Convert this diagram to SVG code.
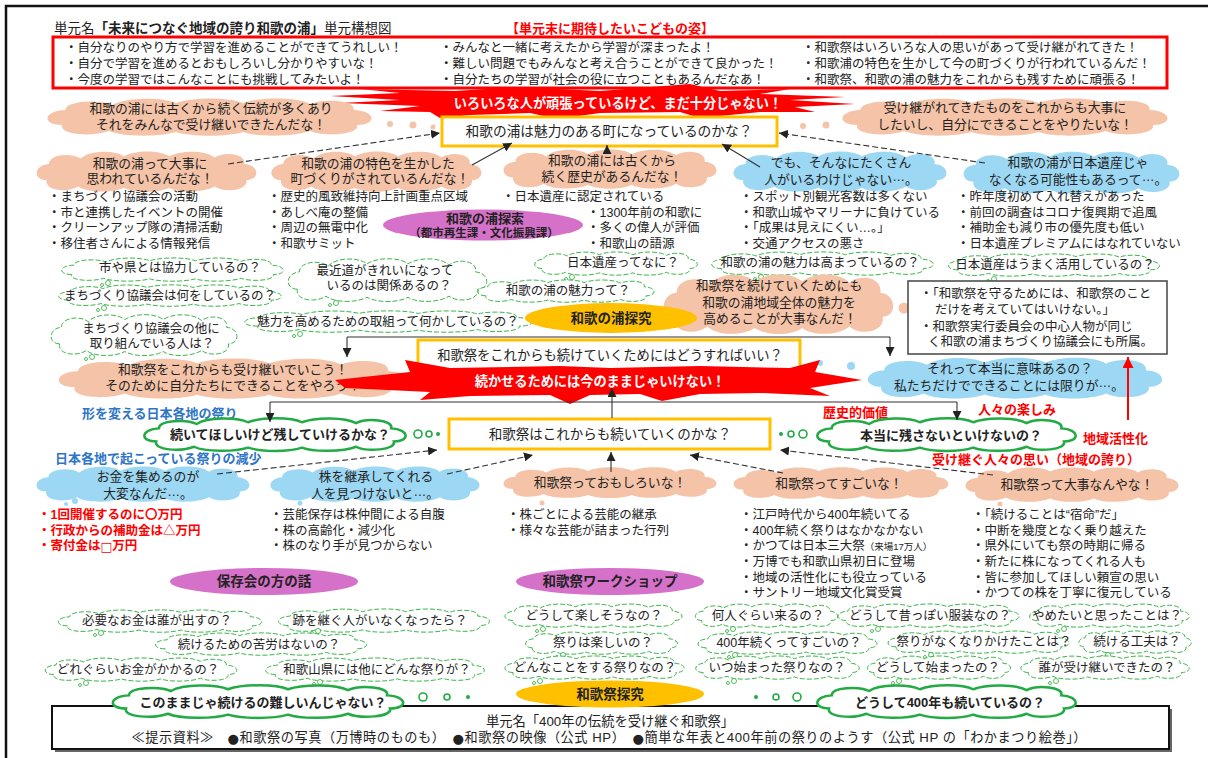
<svg xmlns="http://www.w3.org/2000/svg" width="1208" height="758" viewBox="0 0 1208 758">
<style>
text{font-family:"Liberation Sans","Noto Sans CJK JP","Noto Sans CJK SC",sans-serif;font-size:12.5px;fill:#222;dominant-baseline:central}
.m{text-anchor:middle}
.b{font-weight:bold}
.rd{fill:#FF0000;font-weight:bold;font-size:13px}
.bl{fill:#2E75C5;font-weight:bold;font-size:13px}
.wt{fill:#fff;font-weight:bold;font-size:13.2px}
.t13{font-size:12.8px}
.dv{font-family:"DejaVu Sans",sans-serif}
.pe{fill:#F5C3A7}
.bu{fill:#9CD8F3}
.qd{fill:#fff;stroke:#3DB54A;stroke-width:1;stroke-dasharray:5 2}
.gb{fill:#fff;stroke:#22AA44;stroke-width:2.5}
.gold{fill:#fff;stroke:#FFC000;stroke-width:3}
.ln{fill:none;stroke:#333;stroke-width:1.1}
.dl{fill:none;stroke:#333;stroke-width:1.1;stroke-dasharray:6 3}
.pu{fill:#D571C9}
.or{fill:#FFC000}
.gc{fill:#fff;stroke:#22AA44;stroke-width:1.6}
</style>
<defs>
<path id="cl" vector-effect="non-scaling-stroke" d="M12,28 C0,28 0,14 14,13 C14,4 34,2 42,8 C50,0 72,0 80,6 C90,0 112,0 120,6 C130,0 152,0 160,7 C168,1 188,3 186,13 C200,14 200,28 188,28 C190,38 168,40 160,34 C150,40 128,40 120,35 C110,40 90,40 80,35 C70,40 48,40 40,34 C30,40 10,38 12,28 Z"/>
<g id="tail"><circle cx="0" cy="0" r="1.5" fill="#fff" stroke="#3DB54A" stroke-width="0.9"/><circle cx="6" cy="-2" r="2.5" fill="#fff" stroke="#3DB54A" stroke-width="0.9"/></g>
<marker id="ah" viewBox="0 0 10 10" refX="10" refY="5" markerWidth="9" markerHeight="9" markerUnits="userSpaceOnUse" orient="auto"><path d="M0,0 L10,5 L0,10 Z" fill="#222"/></marker>
<marker id="ahr" viewBox="0 0 10 10" refX="10" refY="5" markerWidth="11" markerHeight="11" markerUnits="userSpaceOnUse" orient="auto"><path d="M0,0 L10,5 L0,10 Z" fill="#FF0000"/></marker>
</defs>
<rect x="0" y="0" width="1208" height="758" fill="#fff"/>
<rect x="6" y="6" width="1215" height="765" fill="none" stroke="#111" stroke-width="2.5"/>

<g id="title">
<text x="54" y="28" style="font-size:13.5px">単元名<tspan class="b">「未来につなぐ地域の誇り和歌の浦」</tspan>単元構想図</text>
<text x="610" y="28" class="m rd">【単元末に期待したいこどもの姿】</text>
</g>

<g id="goal-box">
<rect x="53" y="37" width="1114" height="51" fill="#fff" stroke="#FF0000" stroke-width="3"/>
<text><tspan x="65" y="48">・自分なりのやり方で学習を進めることができてうれしい！</tspan><tspan x="65" y="64">・自分で学習を進めるとおもしろいし分かりやすいな！</tspan><tspan x="65" y="80">・今度の学習ではこんなことにも挑戦してみたいよ！</tspan></text>
<text><tspan x="440" y="48">・みんなと一緒に考えたから学習が深まったよ！</tspan><tspan x="440" y="64">・難しい問題でもみんなと考え合うことができて良かった！</tspan><tspan x="440" y="80">・自分たちの学習が社会の役に立つこともあるんだなあ！</tspan></text>
<text><tspan x="802" y="48">・和歌祭はいろいろな人の思いがあって受け継がれてきた！</tspan><tspan x="802" y="64">・和歌浦の特色を生かして今の町づくりが行われているんだ！</tspan><tspan x="802" y="80">・和歌祭、和歌の浦の魅力をこれからも残すために頑張る！</tspan></text>
</g>

<g id="burst1">
<path fill="#FF0000" d="M330,96 L400,93 L360,89 L455,91 L520,87 L600,91 L690,84 L720,91 L790,89 L760,94 L845,97 L790,100 L855,104 L795,107 L815,112 L760,112 L700,118 L680,112 L600,113 L557,119 L530,113 L470,115 L440,118 L430,112 L380,111 L420,106 L340,103 L400,100 Z"/>
<text x="618" y="103" class="m wt">いろいろな人が頑張っているけど、まだ十分じゃない！</text>
</g>

<g id="cloud-tradition">
<use href="#cl" class="pe" transform="translate(42,97) scale(1.675,1)"/>
<circle cx="390" cy="124" r="3" class="pe"/><circle cx="413" cy="125" r="3.5" class="pe"/><circle cx="433" cy="127" r="2.5" class="pe"/>
<text class="m t13"><tspan x="211" y="108">和歌の浦には古くから続く伝統が多くあり</tspan><tspan x="211" y="124">それをみんなで受け継いできたんだな！</tspan></text>
</g>
<g id="cloud-cherish">
<use href="#cl" class="pe" transform="translate(837,97) scale(1.68,1)"/>
<circle cx="803" cy="126" r="3" class="pe"/><circle cx="826" cy="125" r="3.5" class="pe"/>
<text class="m t13"><tspan x="1005" y="107">受け継がれてきたものをこれからも大事に</tspan><tspan x="1005" y="124">したいし、自分にできることをやりたいな！</tspan></text>
</g>

<g id="box-miryoku">
<rect x="442" y="117" width="335" height="29" class="gold"/>
<text x="609" y="131.5" class="m" style="font-size:13.7px">和歌の浦は魅力のある町になっているのかな？</text>
</g>

<g id="cloud-daiji">
<use href="#cl" class="pe" transform="translate(33,150) scale(1.135,1.075)"/>
<text class="m t13"><tspan x="150" y="163">和歌の浦って大事に</tspan><tspan x="150" y="178">思われているんだな！</tspan></text>
</g>
<g id="cloud-tokushoku">
<use href="#cl" class="pe" transform="translate(268,150) scale(1.085,1.075)"/>
<text class="m t13"><tspan x="378" y="163">和歌の浦の特色を生かした</tspan><tspan x="380" y="178">町づくりがされているんだな！</tspan></text>
</g>
<g id="cloud-rekishi">
<use href="#cl" class="pe" transform="translate(500,148) scale(1.1,1.05)"/>
<text class="m t13"><tspan x="612" y="160">和歌の浦には古くから</tspan><tspan x="612" y="176">続く歴史があるんだな！</tspan></text>
</g>
<g id="cloud-demo">
<use href="#cl" class="bu" transform="translate(730,150) scale(1.1,1.075)"/>
<text class="m t13"><tspan x="841" y="162">でも、そんなにたくさん</tspan><tspan x="841" y="179">人がいるわけじゃない<tspan dy="-3">…</tspan><tspan dy="3">。</tspan></tspan></text>
</g>
<g id="cloud-isan">
<use href="#cl" class="bu" transform="translate(960,150) scale(1.115,1.125)"/>
<circle cx="1003" cy="194" r="3" class="bu"/>
<text class="m t13"><tspan x="1078" y="162">和歌の浦が日本遺産じゃ</tspan><tspan x="1078" y="179">なくなる可能性もあるって<tspan dy="-3">…</tspan><tspan dy="3">。</tspan></tspan></text>
</g>

<g id="facts-1">
<text><tspan x="48" y="197">・まちづくり協議会の活動</tspan><tspan x="48" y="212.5">・市と連携したイベントの開催</tspan><tspan x="48" y="228">・クリーンアップ隊の清掃活動</tspan><tspan x="48" y="243.5">・移住者さんによる情報発信</tspan></text>
<text><tspan x="268" y="197">・歴史的風致維持向上計画重点区域</tspan><tspan x="268" y="212.5">・あしべ庵の整備</tspan><tspan x="268" y="228">・周辺の無電中化</tspan><tspan x="268" y="243.5">・和歌サミット</tspan></text>
<text><tspan x="502" y="197">・日本遺産に認定されている</tspan><tspan x="587" y="212.5">・1300年前の和歌に</tspan><tspan x="587" y="228">・多くの偉人が評価</tspan><tspan x="587" y="243.5">・和歌山の語源</tspan></text>
<text><tspan x="740" y="197">・スポット別観光客数は多くない</tspan><tspan x="740" y="212.5">・和歌山城やマリーナに負けている</tspan><tspan x="740" y="228">・「成果は見えにくい…。」</tspan><tspan x="740" y="243.5">・交通アクセスの悪さ</tspan></text>
<text><tspan x="957" y="197">・昨年度初めて入れ替えがあった</tspan><tspan x="957" y="212.5">・前回の調査はコロナ復興期で追風</tspan><tspan x="957" y="228">・補助金も減り市の優先度も低い</tspan><tspan x="957" y="243.5">・日本遺産プレミアムにはなれていない</tspan></text>
</g>

<g id="tansaku">
<ellipse cx="483" cy="225" rx="100" ry="15.5" class="pu"/>
<text class="m b"><tspan x="485" y="218" style="font-size:13px">和歌の浦探索</tspan><tspan x="484" y="233" style="font-size:11.5px">（都市再生課・文化振興課）</tspan></text>
</g>

<g id="q-kyoryoku"><use href="#cl" class="qd" transform="translate(58,257) scale(1.145,0.625)"/><use href="#tail" transform="translate(102,285)"/><text x="180" y="268" class="m">市や県とは協力しているの？</text></g>
<g id="q-kyogikai"><use href="#cl" class="qd" transform="translate(55,284) scale(1.15,0.575)"/><use href="#tail" transform="translate(98,310)"/><text x="170" y="295.5" class="m">まちづくり協議会は何をしているの？</text></g>
<g id="q-hoka"><use href="#cl" class="qd" transform="translate(48,313) scale(0.96,1.1)"/><use href="#tail" transform="translate(86,359)"/><text class="m"><tspan x="151" y="329">まちづくり協議会の他に</tspan><tspan x="152" y="343.5">取り組んでいる人は？</tspan></text></g>
<g id="q-michi"><use href="#cl" class="qd" transform="translate(285,257) scale(1.025,1.15)"/><use href="#tail" transform="translate(330,305)"/><text class="m"><tspan x="385" y="271">最近道がきれいになって</tspan><tspan x="389" y="286">いるのは関係あるの？</tspan></text></g>
<g id="q-isan"><use href="#cl" class="qd" transform="translate(532,251) scale(0.84,0.625)"/><use href="#tail" transform="translate(566,279)"/><text x="623" y="263" class="m">日本遺産ってなに？</text></g>
<g id="q-miryoku"><use href="#cl" class="qd" transform="translate(475,279) scale(0.91,0.6)"/><text x="568" y="291" class="m">和歌の浦の魅力って？</text></g>
<g id="q-torikumi"><use href="#cl" class="qd" transform="translate(240,310) scale(1.485,0.575)"/><use href="#tail" transform="translate(294,336)"/><text x="388" y="322" class="m">魅力を高めるための取組って何かしているの？</text></g>
<g id="q-takamari"><use href="#cl" class="qd" transform="translate(708,251) scale(1.145,0.625)"/><use href="#tail" transform="translate(755,279)"/><text x="820" y="263" class="m">和歌の浦の魅力は高まっているの？</text></g>
<g id="q-katsuyo"><use href="#cl" class="qd" transform="translate(945,253) scale(1.09,0.6)"/><use href="#tail" transform="translate(988,281)"/><text x="1055" y="265" class="m">日本遺産はうまく活用しているの？</text></g>

<g id="cloud-zentai">
<use href="#cl" class="pe" transform="translate(660,272) scale(1.185,1.6)"/>
<circle cx="904" cy="308" r="5.5" class="pe"/><circle cx="917" cy="309" r="3.5" class="pe"/>
<text class="m t13"><tspan x="779" y="285">和歌祭を続けていくためにも</tspan><tspan x="779" y="302">和歌の浦地域全体の魅力を</tspan><tspan x="780" y="318">高めることが大事なんだ！</tspan></text>
</g>

<g id="tankyu-ura">
<ellipse cx="611" cy="318" rx="86" ry="15" class="or"/>
<text x="611" y="318" class="m b" style="font-size:13.5px">和歌の浦探究</text>
</g>

<g id="note-box">
<rect x="908" y="281" width="259" height="73" fill="#fff" stroke="#444" stroke-width="1.5"/>
<text><tspan x="920" y="294">・「和歌祭を守るためには、和歌祭のこと</tspan><tspan x="935" y="310">だけを考えていてはいけない。」</tspan><tspan x="920" y="327">・和歌祭実行委員会の中心人物が同じ</tspan><tspan x="928" y="342">く和歌の浦まちづくり協議会にも所属。</tspan></text>
</g>

<g id="box-tsuzuke">
<rect x="418" y="340" width="382" height="31" class="gold"/>
<text x="610" y="355" class="m" style="font-size:13.3px">和歌祭をこれからも続けていくためにはどうすればいい？</text>
</g>

<g id="cloud-uketsugu">
<use href="#cl" class="pe" transform="translate(53,357) scale(1.8,1.075)"/>
<text class="m t13"><tspan x="233" y="369">和歌祭をこれからも受け継いでいこう！</tspan><tspan x="233" y="385">そのために自分たちにできることをやろう！</tspan></text>
</g>
<g id="cloud-imi">
<use href="#cl" class="bu" transform="translate(863,356) scale(1.52,1.1)"/>
<circle cx="820" cy="363" r="3" class="bu"/><circle cx="851" cy="366" r="4" class="bu"/>
<text class="m t13"><tspan x="1010" y="368">それって本当に意味あるの？</tspan><tspan x="1009" y="385">私たちだけでできることには限りが<tspan dy="-3">…</tspan><tspan dy="3">。</tspan></tspan></text>
</g>

<g id="burst2">
<path fill="#FF0000" d="M335,380 L410,372 L405,360 L450,368 L560,366 L610,368 L700,366 L790,368 L820,360 L815,372 L862,380 L810,388 L830,396 L760,393 L700,394 L662,401 L640,394 L590,395 L570,404 L550,395 L470,396 L420,400 L430,392 L345,388 Z"/>
<text x="600" y="381" class="m wt">続かせるためには今のままじゃいけない！</text>
</g>

<g id="labels">
<text x="82" y="413" class="bl">形を変える日本各地の祭り</text>
<text x="55" y="458" class="bl">日本各地で起こっている祭りの減少</text>
<text x="823" y="412" class="rd">歴史的価値</text>
<text x="978" y="409" class="rd">人々の楽しみ</text>
<text x="1083" y="438" class="rd">地域活性化</text>
<text x="932" y="459" class="rd">受け継ぐ人々の思い（地域の誇り）</text>
</g>

<g id="cloud-nokoshi">
<use href="#cl" class="gb" transform="translate(140,417) scale(1.35,0.875)"/>
<circle cx="418" cy="434" r="4" class="gc"/><circle cx="429" cy="434" r="3" class="gc"/><circle cx="438" cy="434" r="2" fill="#22AA44"/>
<text x="280" y="434" class="m b" style="font-size:13px">続いてほしいけど残していけるかな？</text>
</g>
<g id="box-tsuzuku">
<rect x="449" y="419" width="321" height="30" class="gold"/>
<text x="610" y="434" class="m" style="font-size:13.5px">和歌祭はこれからも続いていくのかな？</text>
</g>
<g id="cloud-hontou">
<use href="#cl" class="gb" transform="translate(813,417) scale(1.335,0.875)"/>
<circle cx="781" cy="434" r="2" fill="#22AA44"/><circle cx="791" cy="434" r="3" class="gc"/><circle cx="803" cy="434" r="4" class="gc"/>
<text x="951" y="435" class="m b" style="font-size:13px">本当に残さないといけないの？</text>
</g>

<g id="cloud-okane">
<use href="#cl" class="bu" transform="translate(33,465) scale(1.1,0.95)"/>
<circle cx="66" cy="504" r="2" class="bu"/><circle cx="75" cy="501" r="3" class="bu"/>
<text class="m t13"><tspan x="148" y="476">お金を集めるのが</tspan><tspan x="148" y="493">大変なんだ<tspan dy="-2">…</tspan><tspan dy="2">。</tspan></tspan></text>
</g>
<g id="cloud-kabu">
<use href="#cl" class="bu" transform="translate(267,465) scale(1.08,0.95)"/>
<circle cx="300" cy="503" r="2.5" class="bu"/>
<text class="m t13"><tspan x="376" y="476">株を継承してくれる</tspan><tspan x="375" y="493">人を見つけないと<tspan dy="-2">…</tspan><tspan dy="2">。</tspan></tspan></text>
</g>
<g id="cloud-omoshiroi">
<use href="#cl" class="pe" transform="translate(500,466) scale(1.1,0.825)"/>
<circle cx="542" cy="503" r="2.5" class="pe"/>
<text x="610" y="482" class="m t13">和歌祭っておもしろいな！</text>
</g>
<g id="cloud-sugoi">
<use href="#cl" class="pe" transform="translate(730,466) scale(1.11,0.85)"/>
<text x="839" y="483" class="m t13">和歌祭ってすごいな！</text>
</g>
<g id="cloud-daijinanya">
<use href="#cl" class="pe" transform="translate(962,466) scale(1.1,0.925)"/>
<circle cx="1000" cy="504" r="2.5" class="pe"/>
<text x="1077" y="484" class="m t13">和歌祭って大事なんやな！</text>
</g>

<g id="facts-2">
<text class="rd" style="font-size:12.5px"><tspan x="38" y="515">・1回開催するのに〇万円</tspan><tspan x="38" y="531">・行政からの補助金は△万円</tspan><tspan x="38" y="546">・寄付金は<tspan class="dv">□</tspan>万円</tspan></text>
<text><tspan x="270" y="515">・芸能保存は株仲間による自腹</tspan><tspan x="270" y="531">・株の高齢化・減少化</tspan><tspan x="270" y="546">・株のなり手が見つからない</tspan></text>
<text><tspan x="507" y="515">・株ごとによる芸能の継承</tspan><tspan x="507" y="531">・様々な芸能が詰まった行列</tspan></text>
<text><tspan x="740" y="515">・江戸時代から400年続いてる</tspan><tspan x="740" y="531">・400年続く祭りはなかなかない</tspan><tspan x="740" y="546">・かつては日本三大祭</tspan><tspan style="font-size:9.5px">（来場17万人）</tspan><tspan x="740" y="562">・万博でも和歌山県初日に登場</tspan><tspan x="740" y="578">・地域の活性化にも役立っている</tspan><tspan x="740" y="593">・サントリー地域文化賞受賞</tspan></text>
<text><tspan x="972" y="515">・「続けることは“宿命”だ」</tspan><tspan x="972" y="531">・中断を幾度となく乗り越えた</tspan><tspan x="972" y="546">・県外にいても祭の時期に帰る</tspan><tspan x="972" y="562">・新たに株になってくれる人も</tspan><tspan x="972" y="578">・皆に参加してほしい頼宣の思い</tspan><tspan x="972" y="593">・かつての株を丁寧に復元している</tspan></text>
</g>

<g id="hozonkai">
<ellipse cx="264" cy="581.5" rx="94" ry="13.5" class="pu"/>
<text x="264" y="581.5" class="m b" style="font-size:13.5px">保存会の方の話</text>
</g>
<g id="workshop">
<ellipse cx="610" cy="581.5" rx="94" ry="13.5" class="pu"/>
<text x="610" y="581.5" class="m b" style="font-size:13.5px">和歌祭ワークショップ</text>
</g>

<g id="q-dasu"><use href="#cl" class="qd" transform="translate(55,609) scale(1.05,0.6)"/><use href="#tail" transform="translate(95,635)"/><text x="157" y="621" class="m">必要なお金は誰が出すの？</text></g>
<g id="q-ato"><use href="#cl" class="qd" transform="translate(275,608) scale(1.09,0.625)"/><use href="#tail" transform="translate(312,633)"/><text x="380" y="621" class="m">跡を継ぐ人がいなくなったら？</text></g>
<g id="q-kuro"><use href="#cl" class="qd" transform="translate(152,632) scale(1.09,0.6)"/><text x="259" y="644.5" class="m">続けるための苦労はないの？</text></g>
<g id="q-kakaru"><use href="#cl" class="qd" transform="translate(42,657) scale(0.99,0.625)"/><use href="#tail" transform="translate(80,685)"/><text x="138" y="669.5" class="m">どれぐらいお金がかかるの？</text></g>
<g id="q-hokamatsuri"><use href="#cl" class="qd" transform="translate(262,657) scale(1.13,0.625)"/><use href="#tail" transform="translate(314,684)"/><text x="377" y="669.5" class="m">和歌山県には他にどんな祭りが？</text></g>
<g id="q-tanoshisou"><use href="#cl" class="qd" transform="translate(502,603) scale(0.915,0.625)"/><use href="#tail" transform="translate(537,631)"/><text x="594" y="616" class="m">どうして楽しそうなの？</text></g>
<g id="q-tanoshii"><use href="#cl" class="qd" transform="translate(523,631) scale(0.785,0.6)"/><use href="#tail" transform="translate(557,657)"/><text x="603" y="643" class="m">祭りは楽しいの？</text></g>
<g id="q-donna"><use href="#cl" class="qd" transform="translate(502,655) scale(0.925,0.625)"/><use href="#tail" transform="translate(534,683)"/><text x="595" y="667.5" class="m">どんなことをする祭りなの？</text></g>
<g id="q-nannin"><use href="#cl" class="qd" transform="translate(693,603) scale(0.735,0.625)"/><use href="#tail" transform="translate(727,631)"/><text x="768" y="616" class="m">何人ぐらい来るの？</text></g>
<g id="q-400"><use href="#cl" class="qd" transform="translate(695,631) scale(0.925,0.6)"/><use href="#tail" transform="translate(729,657)"/><text x="789" y="643" class="m">400年続くってすごいの？</text></g>
<g id="q-itsu"><use href="#cl" class="qd" transform="translate(693,655) scale(0.845,0.625)"/><use href="#tail" transform="translate(728,683)"/><text x="777" y="667.5" class="m">いつ始まった祭りなの？</text></g>
<g id="q-fukuso"><use href="#cl" class="qd" transform="translate(835,603) scale(0.935,0.625)"/><use href="#tail" transform="translate(872,631)"/><text x="930" y="615.5" class="m">どうして昔っぽい服装なの？</text></g>
<g id="q-nakunari"><use href="#cl" class="qd" transform="translate(885,630) scale(0.935,0.6)"/><use href="#tail" transform="translate(925,657)"/><text x="984" y="641.5" class="m">祭りがなくなりかけたことは？</text></g>
<g id="q-hajimatta"><use href="#cl" class="qd" transform="translate(865,655) scale(0.74,0.625)"/><use href="#tail" transform="translate(893,683)"/><text x="938" y="667.5" class="m">どうして始まったの？</text></g>
<g id="q-yametai"><use href="#cl" class="qd" transform="translate(1027,603) scale(0.825,0.625)"/><use href="#tail" transform="translate(1058,631)"/><text x="1107" y="615.5" class="m">やめたいと思ったことは？</text></g>
<g id="q-kufu"><use href="#cl" class="qd" transform="translate(1077,630) scale(0.58,0.6)"/><use href="#tail" transform="translate(1102,657)"/><text x="1137" y="641.5" class="m">続ける工夫は？</text></g>
<g id="q-dare"><use href="#cl" class="qd" transform="translate(1018,655) scale(0.87,0.625)"/><use href="#tail" transform="translate(1050,683)"/><text x="1107" y="667.5" class="m">誰が受け継いできたの？</text></g>

<g id="bottom-box">
<rect x="55" y="709" width="1117" height="43" fill="#666"/>
<rect x="52" y="706" width="1117" height="43" fill="#fff" stroke="#111" stroke-width="2"/>
<text x="610" y="721" class="m" style="font-size:13.3px">単元名「400年の伝統を受け継ぐ和歌祭」</text>
<text x="609" y="737.5" class="m" style="font-size:13.2px" textLength="955" lengthAdjust="spacing">≪提示資料≫　<tspan class="dv">●</tspan>和歌祭の写真（万博時のものも）　<tspan class="dv">●</tspan>和歌祭の映像（公式 HP）　<tspan class="dv">●</tspan>簡単な年表と400年前の祭りのようす（公式 HP の「わかまつり絵巻」）</text>
</g>

<g id="cloud-muzukashii">
<use href="#cl" class="gb" transform="translate(108,684) scale(1.5,0.875)"/>
<circle cx="423" cy="697" r="4" class="gc"/><circle cx="447" cy="697" r="3" class="gc"/><circle cx="468" cy="697" r="2" fill="#22AA44"/>
<text x="263" y="702" class="m b" style="font-size:13px">このままじゃ続けるの難しいんじゃない？</text>
</g>
<g id="tankyu-matsuri">
<ellipse cx="610" cy="694" rx="94" ry="13.5" class="or"/>
<text x="610" y="694" class="m b" style="font-size:13.5px">和歌祭探究</text>
</g>
<g id="cloud-400nen">
<use href="#cl" class="gb" transform="translate(813,684) scale(1.335,0.875)"/>
<circle cx="756" cy="697" r="2" fill="#22AA44"/><circle cx="776" cy="697" r="3" class="gc"/><circle cx="797" cy="697" r="4" class="gc"/>
<text x="950" y="702" class="m b" style="font-size:13px">どうして400年も続いているの？</text>
</g>

<g id="connectors">
<line x1="228" y1="164" x2="440" y2="133" class="dl" marker-end="url(#ah)"/>
<line x1="472" y1="165" x2="512" y2="143" class="ln" marker-end="url(#ah)"/>
<line x1="607" y1="153" x2="607" y2="145" class="ln" marker-end="url(#ah)"/>
<line x1="760" y1="167" x2="722" y2="144" class="ln" marker-end="url(#ah)"/>
<line x1="985" y1="163" x2="779" y2="133" class="dl" marker-end="url(#ah)"/>
<path d="M347,337 H890" class="ln"/>
<path d="M347,337 V357" class="ln" marker-end="url(#ah)"/>
<path d="M890,337 V356" class="ln" marker-end="url(#ah)"/>
<path d="M270,402 H957" class="ln"/>
<path d="M270,402 V422" class="ln" marker-end="url(#ah)"/>
<path d="M957,402 V420" class="ln" marker-end="url(#ah)"/>
<line x1="612" y1="418" x2="612" y2="388" class="ln" marker-end="url(#ah)"/>
<line x1="1128" y1="420" x2="1128" y2="357" stroke="#FF0000" stroke-width="2" marker-end="url(#ahr)"/>
<line x1="217" y1="474" x2="437" y2="450" class="dl" marker-end="url(#ah)"/>
<line x1="447" y1="474" x2="533" y2="455" class="dl" marker-end="url(#ah)"/>
<line x1="611" y1="472" x2="611" y2="452" class="ln" marker-end="url(#ah)"/>
<line x1="783" y1="473" x2="690" y2="455" class="dl" marker-end="url(#ah)"/>
<line x1="993" y1="475" x2="780" y2="450" class="dl" marker-end="url(#ah)"/>
</g>
</svg>
